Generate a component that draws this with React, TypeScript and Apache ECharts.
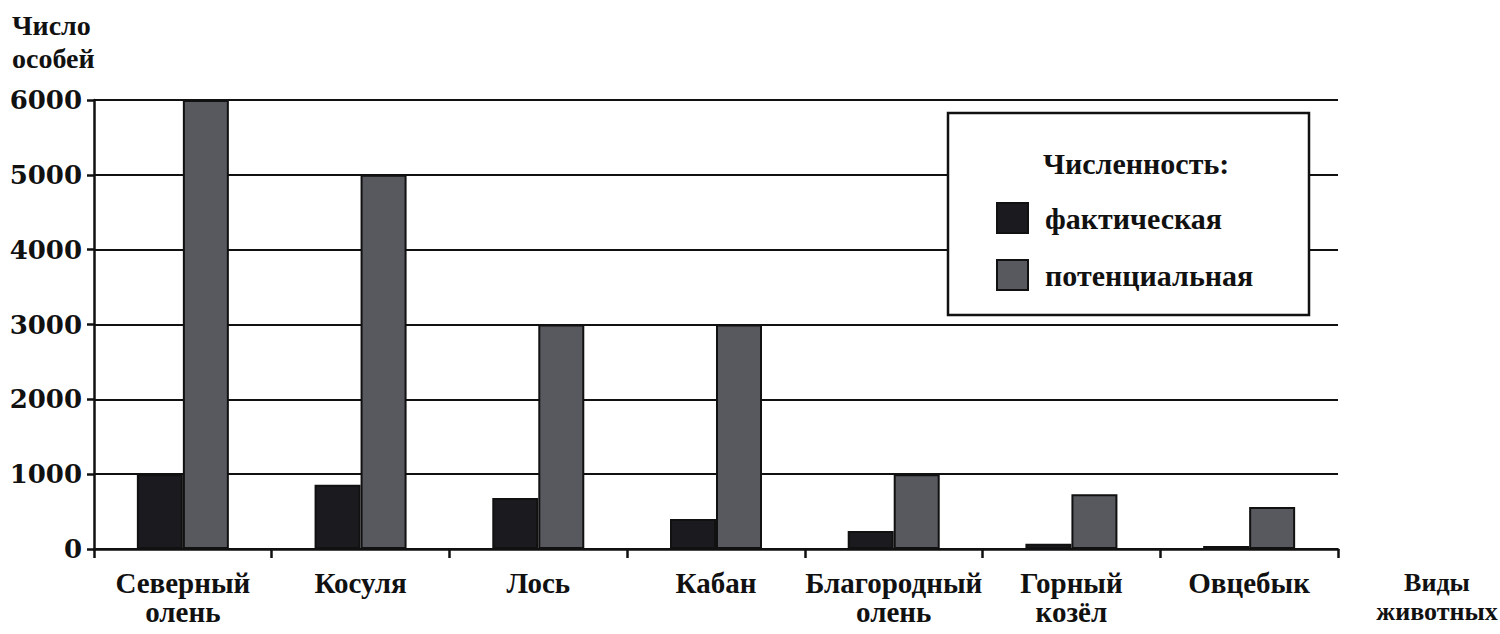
import React, { useEffect, useRef } from "react";
import * as echarts from "echarts";

const categories = [
  "Северный\nолень",
  "Косуля",
  "Лось",
  "Кабан",
  "Благородный\nолень",
  "Горный\nкозёл",
  "Овцебык",
];
const actualValues = [1000, 860, 680, 400, 240, 70, 40];
const potentialValues = [6000, 5000, 3000, 3000, 1000, 730, 560];
const seriesNames = ["фактическая", "потенциальная"];
const yAxisTitle = "Число\nособей";
const xAxisTitle = "Виды\nживотных";
const legendTitle = "Численность:";

const NUMFONT = "'DejaVu Serif', serif";
const FONT = "'Liberation Serif', serif";
const INK = "#111111";

export default function App() {
  const ref = useRef<HTMLDivElement>(null);
  useEffect(() => {
    if (!ref.current) return;
    const chart = echarts.init(ref.current, undefined, { renderer: "svg" });
    chart.setOption({
      animation: false,
      backgroundColor: "#ffffff",
      textStyle: { fontFamily: FONT, color: INK },
      grid: { left: 94, right: 162, top: 100, bottom: 85, containLabel: false },
      xAxis: {
        type: "category",
        data: categories,
        axisLine: { lineStyle: { color: INK, width: 2.5 } },
        axisTick: { show: true, length: 9, lineStyle: { color: INK, width: 2.5 } },
        axisLabel: {
          interval: 0,
          margin: 19,
          fontFamily: FONT,
          fontWeight: "bold",
          fontSize: 29,
          lineHeight: 29,
          color: INK,
        },
      },
      yAxis: {
        type: "value",
        min: 0,
        max: 6000,
        interval: 1000,
        axisLine: { show: true, lineStyle: { color: INK, width: 2.5 } },
        axisTick: { show: true, length: 7, lineStyle: { color: INK, width: 2.5 } },
        axisLabel: {
          margin: 12,
          fontFamily: NUMFONT,
          fontWeight: "bold",
          fontSize: 26,
          color: INK,
          formatter: (v: number) => String(v),
        },
        splitLine: { show: true, lineStyle: { color: INK, width: 2.2 } },
      },
      legend: {
        show: true,
        orient: "vertical",
        left: 991,
        top: 197,
        itemWidth: 31,
        itemHeight: 30,
        itemGap: 25,
        icon: "rect",
        z: 10,
        textStyle: {
          fontFamily: FONT,
          fontWeight: "bold",
          fontSize: 30,
          color: INK,
          padding: [0, 0, 0, 12],
        },
        data: seriesNames,
      },
      graphic: [
        {
          type: "rect",
          z: 5,
          shape: { x: 948, y: 113, width: 361, height: 202 },
          style: { fill: "#ffffff", stroke: INK, lineWidth: 2.5 },
        },
        {
          type: "text",
          z: 11,
          x: 1043,
          y: 163,
          style: {
            text: legendTitle,
            fontFamily: FONT,
            fontWeight: "bold",
            fontSize: 30,
            fill: INK,
            verticalAlign: "middle",
          },
        },
        {
          type: "text",
          z: 11,
          x: 12,
          y: 9,
          style: {
            text: yAxisTitle,
            fontFamily: FONT,
            fontWeight: "bold",
            fontSize: 28,
            lineHeight: 33,
            fill: INK,
          },
        },
        {
          type: "text",
          z: 11,
          x: 1437,
          y: 568,
          style: {
            text: xAxisTitle,
            fontFamily: FONT,
            fontWeight: "bold",
            fontSize: 26,
            lineHeight: 29,
            fill: INK,
            align: "center",
          },
        },
      ],
      series: [
        {
          name: seriesNames[0],
          type: "bar",
          data: actualValues,
          barWidth: 46,
          barGap: "0%",
          itemStyle: { color: "#1b1b1f", borderColor: INK, borderWidth: 2 },
        },
        {
          name: seriesNames[1],
          type: "bar",
          data: potentialValues,
          barWidth: 46,
          barGap: "0%",
          itemStyle: { color: "#58595f", borderColor: INK, borderWidth: 2 },
        },
      ],
    });
    return () => chart.dispose();
  }, []);
  return (
    <div
      ref={ref}
      style={{ position: "fixed", left: 0, top: 0, width: 1500, height: 634 }}
    />
  );
}
